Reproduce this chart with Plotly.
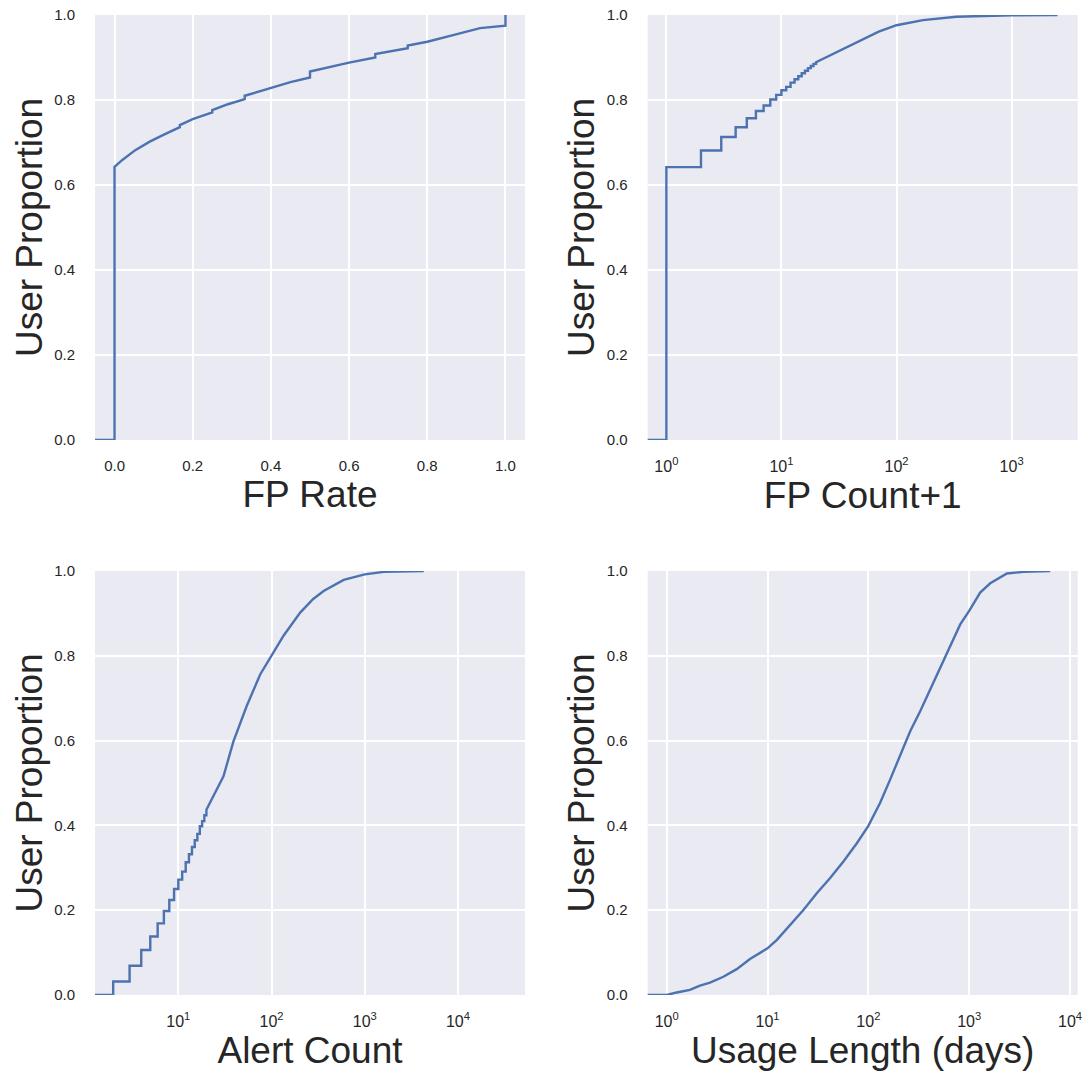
import plotly.graph_objects as go

# ---------------- data ----------------
# Panel 1: FP Rate ECDF (points along the curve, both sides of visible jumps)
fp_rate_x = [-0.2, 0.0, 0.0, 0.02, 0.053, 0.09, 0.125, 0.167, 0.167, 0.2, 0.25, 0.25, 0.29,
             0.333, 0.333, 0.4, 0.45, 0.5, 0.5, 0.6, 0.667, 0.667, 0.75, 0.75, 0.8, 0.876,
             0.935, 1.0, 1.0]
fp_rate_y = [0.0, 0.0, 0.643, 0.659, 0.682, 0.702, 0.718, 0.736, 0.741, 0.755, 0.771, 0.776,
             0.790, 0.802, 0.810, 0.829, 0.842, 0.853, 0.867, 0.888, 0.900, 0.908, 0.922,
             0.928, 0.937, 0.955, 0.969, 0.975, 1.0]

# Panel 2: FP Count+1 ECDF (discrete steps, then smooth tail)
fp_count_vals = [1, 2, 3, 4, 5, 6, 7, 8, 9, 10, 11, 12, 13, 14, 15, 16, 17, 18, 19, 20]
fp_count_cdf = [0.642, 0.681, 0.713, 0.736, 0.757, 0.774, 0.787, 0.801, 0.812, 0.823,
                0.831, 0.841, 0.849, 0.856, 0.863, 0.869, 0.875, 0.880, 0.885, 0.889]
fp_count_tail_x = [30, 45, 70, 100, 170, 330, 1000, 2500]
fp_count_tail_y = [0.912, 0.935, 0.961, 0.976, 0.988, 0.996, 0.9995, 1.0]

# Panel 3: Alert Count ECDF
alert_vals = [2, 3, 4, 5, 6, 7, 8, 9, 10, 11, 12, 13, 14, 15, 16, 17, 18, 19, 20]
alert_cdf = [0.032, 0.069, 0.106, 0.138, 0.169, 0.198, 0.224, 0.250, 0.272, 0.291,
             0.313, 0.332, 0.349, 0.365, 0.380, 0.398, 0.410, 0.424, 0.437]
alert_tail_x = [25, 30.5, 39, 54, 75.5, 100, 135, 203, 280, 362, 594, 1000, 1600, 4300]
alert_tail_y = [0.478, 0.516, 0.598, 0.681, 0.756, 0.799, 0.848, 0.902, 0.934, 0.953,
                0.979, 0.992, 0.998, 1.0]

# Panel 4: Usage Length (days) ECDF
usage_x = [0.1, 1, 1.26, 1.7, 2.14, 2.69, 3.65, 4.95, 6.7, 10, 12.4, 16.8, 22.8, 30.8, 41.8,
           56.6, 76.9, 100, 130.6, 164.4, 206.5, 260, 326.6, 410, 515, 648.6, 814.7, 1000,
           1285, 1618, 2032, 2366, 3459, 6368]
usage_y = [0.0, 0.0, 0.006, 0.012, 0.022, 0.029, 0.043, 0.061, 0.085, 0.110, 0.130, 0.165,
           0.201, 0.240, 0.276, 0.315, 0.358, 0.399, 0.453, 0.508, 0.563, 0.622, 0.669,
           0.720, 0.768, 0.823, 0.874, 0.906, 0.949, 0.971, 0.984, 0.994, 0.998, 1.0]

x_titles = ["FP Rate", "FP Count+1", "Alert Count", "Usage Length (days)"]
y_title = "User Proportion"
lin_ticks = [0.0, 0.2, 0.4, 0.6, 0.8, 1.0]

# ---------------- style ----------------
LINE = "#4C72B0"
BG = "#EAEAF2"
TXT = "#262626"
FONT = "Liberation Sans, Arial, sans-serif"
TICK = 15
TITLE = 37
W, H = 1085, 1080


def step_path(start_x, vals, cdf, tail_x, tail_y):
    xs, ys, prev = [start_x], [0.0], 0.0
    for v, c in zip(vals, cdf):
        xs += [v, v]
        ys += [prev, c]
        prev = c
    return xs + list(tail_x), ys + list(tail_y)


p2x, p2y = step_path(0.1, fp_count_vals, fp_count_cdf, fp_count_tail_x, fp_count_tail_y)
p3x, p3y = step_path(0.1, alert_vals, alert_cdf, alert_tail_x, alert_tail_y)

fig = go.Figure()
series = [(fp_rate_x, fp_rate_y), (p2x, p2y), (p3x, p3y), (usage_x, usage_y)]
for i, (xs, ys) in enumerate(series):
    n = "" if i == 0 else str(i + 1)
    fig.add_trace(go.Scatter(x=xs, y=ys, mode="lines", xaxis="x" + n, yaxis="y" + n,
                             line=dict(color=LINE, width=2.4), showlegend=False))

# pixel geometry of plot areas
cols = [(95, 525), (647.7, 1077.7)]
rows = [(15, 440), (571, 995)]

xranges = [[-0.05, 1.05], [-0.162, 3.574], [0.106, 4.719], [-0.188, 4.076]]
log_ticks = [None, [1, 10, 100, 1000], [10, 100, 1000, 10000], [1, 10, 100, 1000, 10000]]

layout = dict(width=W, height=H, margin=dict(l=0, r=0, t=0, b=0, autoexpand=False),
              paper_bgcolor="white", plot_bgcolor=BG,
              font=dict(family=FONT, color=TXT))

for i in range(4):
    r, c = divmod(i, 2)
    n = "" if i == 0 else str(i + 1)
    x0, x1 = cols[c]
    y0, y1 = rows[r]
    xa = dict(domain=[x0 / W, x1 / W], anchor="y" + n, range=xranges[i], automargin=False,
              showgrid=True, gridcolor="white", gridwidth=1.6, zeroline=False,
              showline=False, ticks="outside", ticklen=12, tickcolor="rgba(0,0,0,0)",
              tickfont=dict(size=TICK, color=TXT, family=FONT),
              title=dict(text=x_titles[i], font=dict(size=TITLE, color=TXT, family=FONT),
                         standoff=0))
    if log_ticks[i] is None:
        xa.update(type="linear", tickvals=lin_ticks, tickformat=".1f")
    else:
        xa.update(type="log", tickvals=log_ticks[i], tickfont=dict(size=16, color=TXT, family=FONT),
                  ticktext=["10<sup>%d</sup>" % len(str(v)[1:]) for v in log_ticks[i]])
    ya = dict(domain=[1 - y1 / H, 1 - y0 / H], anchor="x" + n, range=[0, 1], automargin=False,
              showgrid=True, gridcolor="white", gridwidth=1.6, zeroline=False,
              showline=False, ticks="outside", ticklen=16, tickcolor="rgba(0,0,0,0)",
              tickvals=lin_ticks, tickformat=".1f",
              tickfont=dict(size=TICK, color=TXT, family=FONT),
              title=dict(text=y_title, font=dict(size=TITLE, color=TXT, family=FONT),
                         standoff=0))
    layout["xaxis" + n] = xa
    layout["yaxis" + n] = ya

fig.update_layout(**layout)
fig.write_html("out.html")
